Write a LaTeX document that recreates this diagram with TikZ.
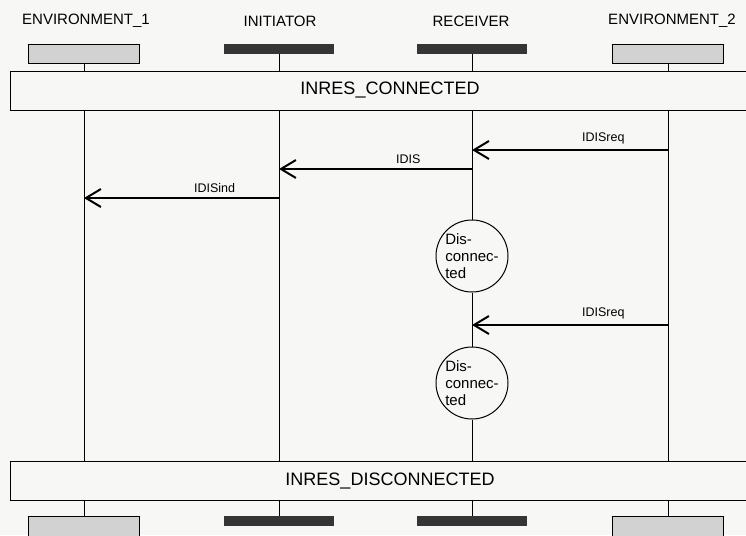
\documentclass[tikz,border=0pt]{standalone}
\usepackage{fontspec}
\setmainfont{Liberation Sans}
\usetikzlibrary{arrows.meta,positioning,calc}
\definecolor{envgray}{HTML}{D2D2D2}
\definecolor{bardark}{HTML}{353535}
\definecolor{paper}{HTML}{F7F7F5}

\tikzset{
  envhead/.style={draw, fill=envgray, line width=0.9pt, minimum width=111pt, minimum height=19pt, inner sep=0},
  prochead/.style={fill=bardark, minimum width=110pt, minimum height=10pt, inner sep=0},
  headlbl/.style={font=\fontsize{15}{18}\selectfont, inner sep=0},
  cond/.style={draw, line width=1pt, minimum width=760pt, minimum height=39pt, font=\fontsize{18}{21}\selectfont},
  life/.style={line width=1pt},
  msg/.style={line width=1.3pt, -{Straight Barb[length=15pt,width=18pt,line width=2pt]}},
  msglbl/.style={font=\fontsize{12.5}{15}\selectfont, above=5pt, pos=0.33, inner sep=0},
  state/.style={draw, circle, line width=1pt, fill=paper, minimum size=72pt, inner sep=0, align=left, font=\fontsize{15}{17}\selectfont},
}

\begin{document}
\begin{tikzpicture}[x=1pt, y=-1pt]
  \path[use as bounding box, fill=paper] (0,0) rectangle (746,535);

  % instance heads
  \node[envhead]  (e1) at (84,53.5) {};
  \node[prochead] (in) at (279,49) {};
  \node[prochead] (rc) at (472,49) {};
  \node[envhead]  (e2) at (668,53.5) {};
  \node[headlbl] (e1lbl) at (86,21) {ENVIRONMENT\_1};
  \node[headlbl] (inlbl) at (280,21) {INITIATOR};
  \node[headlbl] (rclbl) at (471,21) {RECEIVER};
  \node[headlbl] (e2lbl) at (672,21) {ENVIRONMENT\_2};

  % conditions
  \node[cond] (c1) at (390,90.5) {INRES\_CONNECTED\hspace{36pt}};
  \node[cond] (c2) at (390,481) {INRES\_DISCONNECTED\hspace{36pt}};

  % instance ends
  \node[envhead, minimum height=24pt] (e1b) at (84,528) {};
  \node[prochead] (inb) at (279,521) {};
  \node[prochead] (rcb) at (472,521) {};
  \node[envhead, minimum height=24pt] (e2b) at (668,528) {};

  % states on the receiver
  \node[state] (d1) at (rc |- 0,256) {Dis-\\connec-\\ted};
  \node[state] (d2) at (rc |- 0,383) {Dis-\\connec-\\ted};

  % lifelines
  \foreach \h/\b in {e1/e1b, in/inb, rc/rcb, e2/e2b} {
    \draw[life] (\h) -- (\h |- c1.north);
    \draw[life] (c2.south -| \h) -- (\b);
  }
  \draw[life] (c1.south -| e1) -- (c2.north -| e1);
  \draw[life] (c1.south -| in) -- (c2.north -| in);
  \draw[life] (c1.south -| rc) -- (d1) -- (d2) -- (c2.north -| rc);
  \draw[life] (c1.south -| e2) -- (c2.north -| e2);

  % messages
  \coordinate (m1) at (e2 |- 0,150);
  \coordinate (m2) at (rc |- 0,169);
  \coordinate (m3) at (in |- 0,198);
  \coordinate (m4) at (e2 |- 0,325);
  \draw[msg] (m1) -- (m1 -| rc) node[msglbl] {IDISreq};
  \draw[msg] (m2) -- (m2 -| in) node[msglbl] {IDIS};
  \draw[msg] (m3) -- (m3 -| e1) node[msglbl] {IDISind};
  \draw[msg] (m4) -- (m4 -| rc) node[msglbl] {IDISreq};
\end{tikzpicture}
\end{document}
